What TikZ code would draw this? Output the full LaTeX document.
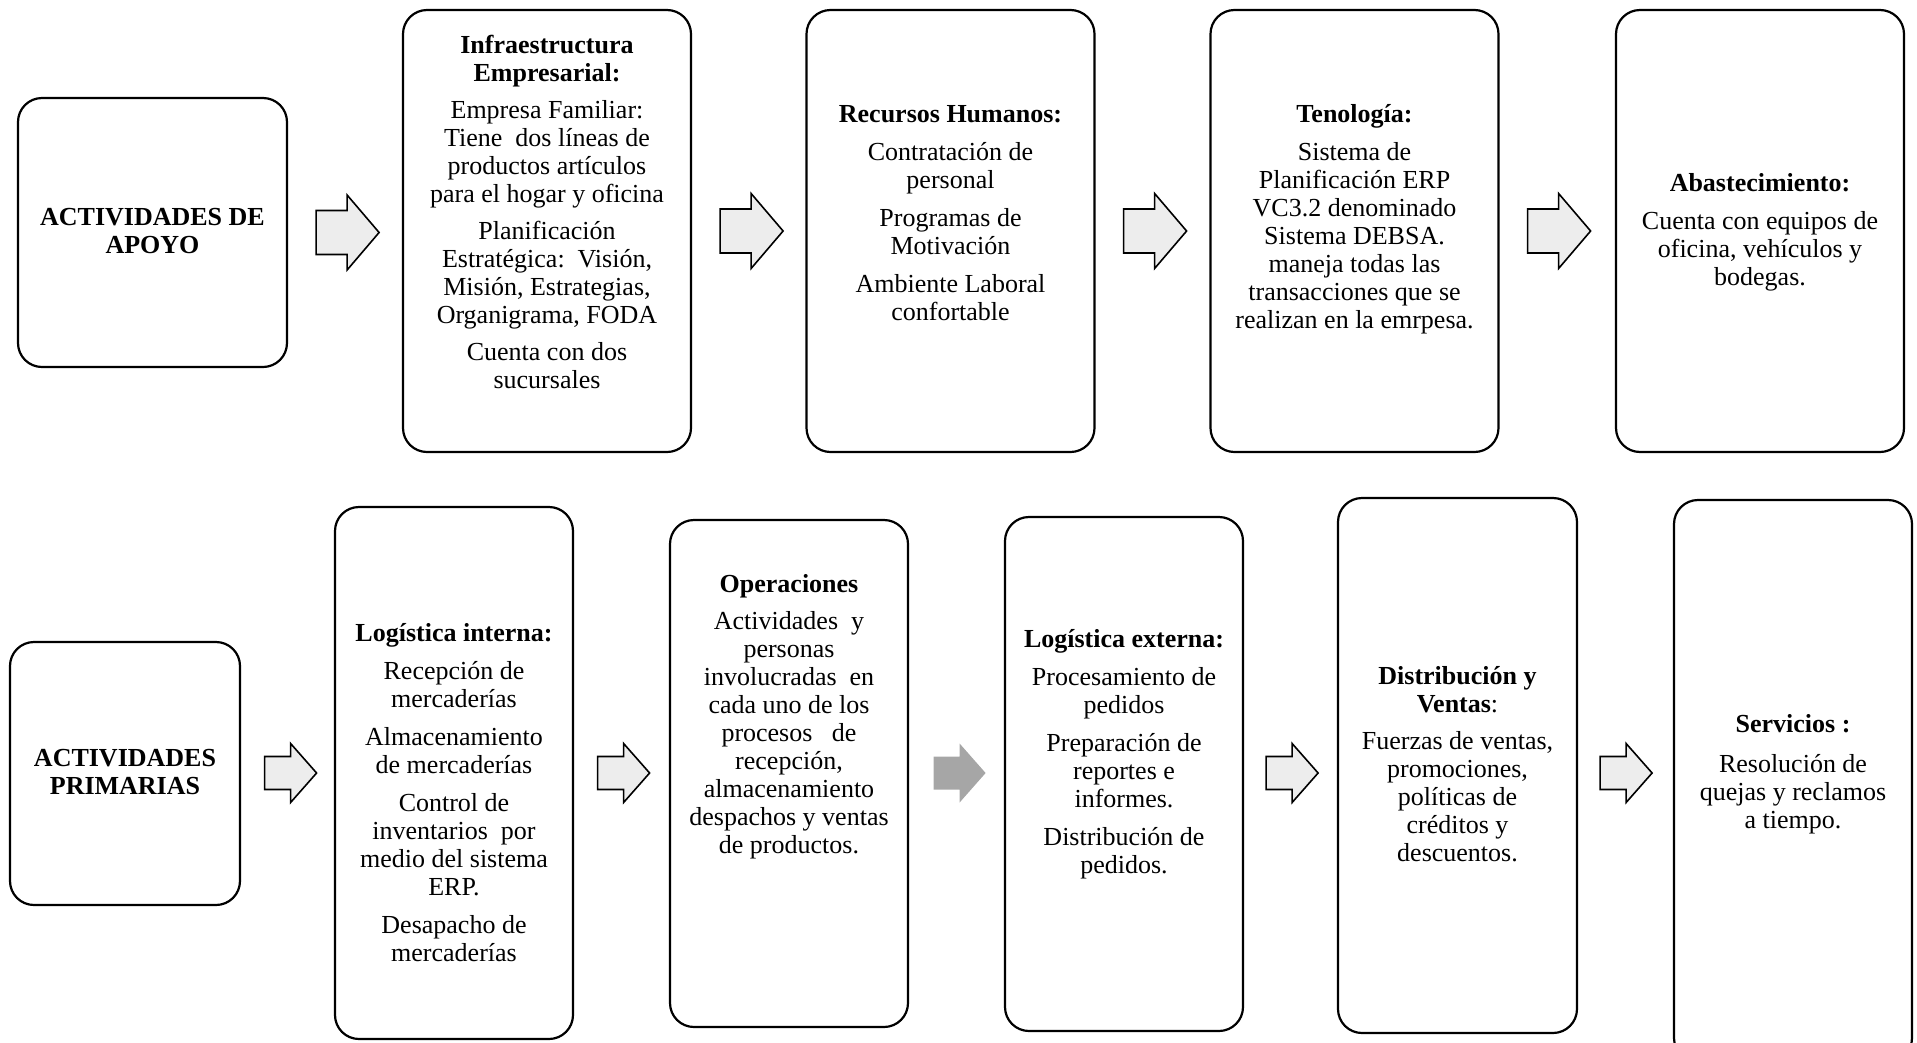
\documentclass[tikz,border=0pt]{standalone}
\usepackage{fontspec}
\setmainfont{Liberation Serif}
\usetikzlibrary{calc}
\definecolor{arrowlight}{HTML}{EDEDED}
\definecolor{arrowdark}{HTML}{A6A6A6}
\tikzset{
  card/.style={draw=black, line width=2.2pt, rounded corners=24pt, inner sep=0pt, fill=white},
  cardtext/.style={align=center, inner sep=0pt, font=\fontsize{26}{28}\selectfont},
  outlinedarrow/.style={draw=black, line width=1.6pt, line join=miter, fill=arrowlight},
  solidarrow/.style={fill=arrowdark},
  % wide block arrow used between the support-activity cards
  toparrow/.pic={\path[pic actions] (0,-22) -- (31,-22) -- (31,-37.5) -- (63,0)
      -- (31,37.5) -- (31,22) -- (0,22) -- cycle;},
  % smaller block arrow used between the primary-activity cards
  botarrow/.pic={\path[pic actions] (0,-16.5) -- (26,-16.5) -- (26,-29.5) -- (52,0)
      -- (26,29.5) -- (26,16.5) -- (0,16.5) -- cycle;}
}
\begin{document}
\begin{tikzpicture}[x=1pt, y=-1pt]
\useasboundingbox (0,0) rectangle (1917,1042);
\clip (0,0) rectangle (1917,1042);

% ---------- support activities ----------
\node[card, minimum width=269pt, minimum height=269pt] (apoyo) at (152.5,232.5) {};
\node[card, minimum width=288pt, minimum height=442pt] (infra) at (547,231) {};
\node[card, minimum width=288pt, minimum height=442pt] (rrhh)  at (950.5,231) {};
\node[card, minimum width=288pt, minimum height=442pt] (tec)   at (1354.5,231) {};
\node[card, minimum width=288pt, minimum height=442pt] (abast) at (1760,231) {};

\node[cardtext] (apoyo-t) at ($(apoyo.center)+(0,-1)$)
  {\textbf{ACTIVIDADES DE}\\ \textbf{APOYO}};
\node[cardtext] (infra-t) at ($(infra.center)+(0,-19)$)
  {\textbf{Infraestructura}\\ \textbf{Empresarial:}\\[9pt]
   Empresa Familiar:\\ Tiene\ \ dos líneas de\\ productos artículos\\ para el hogar y oficina\\[9pt]
   Planificación\\ Estratégica:\ \ Visión,\\ Misión, Estrategias,\\ Organigrama, FODA\\[9pt]
   Cuenta con dos\\ sucursales};
\node[cardtext] (rrhh-t) at ($(rrhh.center)+(0,-18)$)
  {\textbf{Recursos Humanos:}\\[10pt]
   Contratación de\\ personal\\[10pt]
   Programas de\\ Motivación\\[10pt]
   Ambiente Laboral\\ confortable};
\node[cardtext] (tec-t) at ($(tec.center)+(0,-12)$)
  {\textbf{Tenología:}\\[10pt]
   Sistema de\\ Planificación ERP\\ VC3.2 denominado\\ Sistema DEBSA.\\
   maneja todas las\\ transacciones que se\\ realizan en la emrpesa.};
\node[cardtext] (abast-t) at ($(abast.center)+(0,1)$)
  {\textbf{Abastecimiento:}\\[10pt]
   Cuenta con equipos de\\ oficina, vehículos y\\ bodegas.};

\path ($(apoyo.east)+(28,0)$) pic[outlinedarrow] {toparrow};
\path ($(infra.east)+(28,0)$) pic[outlinedarrow] {toparrow};
\path ($(rrhh.east)+(28,0)$)  pic[outlinedarrow] {toparrow};
\path ($(tec.east)+(28,0)$)   pic[outlinedarrow] {toparrow};

% ---------- primary activities ----------
\coordinate (rowb) at (0,773);
\node[card, minimum width=230pt, minimum height=263pt] (prim)   at (125,773.5) {};
\node[card, minimum width=238pt, minimum height=532pt] (logint) at (454,773) {};
\node[card, minimum width=238pt, minimum height=507pt] (oper)   at (789,773.5) {};
\node[card, minimum width=238pt, minimum height=514pt] (logext) at (1124,774) {};
\node[card, minimum width=239pt, minimum height=535pt] (dist)   at (1457.5,765.5) {};
\node[card, minimum width=238pt, minimum height=562pt] (serv)   at (1793,781) {};

\node[cardtext] (prim-t) at ($(prim.center)+(0,-1.5)$)
  {\textbf{ACTIVIDADES}\\ \textbf{PRIMARIAS}};
\node[cardtext] (logint-t) at ($(logint.center)+(0,20)$)
  {\textbf{Logística interna:}\\[10pt]
   Recepción de\\ mercaderías\\[10pt]
   Almacenamiento\\ de mercaderías\\[10pt]
   Control de\\ inventarios\ \ por\\ medio del sistema\\ ERP.\\[10pt]
   Desapacho de\\ mercaderías};
\node[cardtext] (oper-t) at ($(oper.center)+(0,-57)$)
  {\textbf{Operaciones}\\[9pt]
   Actividades\ \ y\\ personas\\ involucradas\ \ en\\ cada uno de los\\ procesos\ \ \ de\\
   recepción,\\ almacenamiento\\ despachos y ventas\\ de productos.};
\node[cardtext] (logext-t) at ($(logext.center)+(0,-20)$)
  {\textbf{Logística externa:}\\[10pt]
   Procesamiento de\\ pedidos\\[10pt]
   Preparación de\\ reportes e\\ informes.\\[10pt]
   Distribución de\\ pedidos.};
\node[cardtext] (dist-t) at ($(dist.center)+(0,-1)$)
  {\textbf{Distribución y}\\ \textbf{Ventas}:\\[9pt]
   Fuerzas de ventas,\\ promociones,\\ políticas de\\ créditos y\\ descuentos.};
\node[cardtext] (serv-t) at ($(serv.center)+(0,-7)$)
  {\textbf{Servicios :}\\[12pt]
   Resolución de\\ quejas y reclamos\\ a tiempo.};

\path ($(prim.east |- rowb)+(23.5,0)$)   pic[outlinedarrow] {botarrow};
\path ($(logint.east |- rowb)+(23.5,0)$) pic[outlinedarrow] {botarrow};
\path ($(oper.east |- rowb)+(24.5,0)$)   pic[solidarrow] {botarrow};
\path ($(logext.east |- rowb)+(22,0)$)   pic[outlinedarrow] {botarrow};
\path ($(dist.east |- rowb)+(22,0)$)     pic[outlinedarrow] {botarrow};
\end{tikzpicture}
\end{document}
